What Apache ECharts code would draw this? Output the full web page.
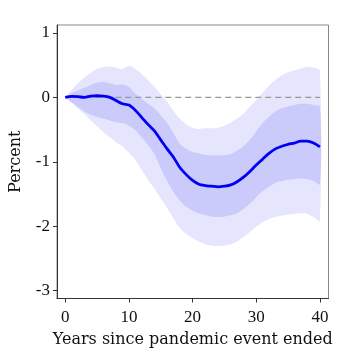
<!DOCTYPE html>
<html><head><meta charset="utf-8">
<script src="https://cdn.jsdelivr.net/npm/echarts@6/dist/echarts.min.js"></script>
<style>html,body{margin:0;padding:0;background:#fff}#c{width:344px;height:348px}</style>
</head><body><div id="c"></div>
<script>
var years = [];
for (var i = 0; i <= 40; i++) years.push(i);
var estimate = [0.00,0.015,0.01,0.00,0.02,0.025,0.02,0.00,-0.05,-0.10,-0.12,-0.20,-0.31,-0.42,-0.52,-0.66,-0.80,-0.93,-1.09,-1.20,-1.29,-1.35,-1.37,-1.38,-1.39,-1.38,-1.36,-1.31,-1.24,-1.15,-1.05,-0.96,-0.87,-0.80,-0.76,-0.73,-0.71,-0.68,-0.68,-0.71,-0.77];
var innerUpper = [0.00,0.06,0.11,0.15,0.19,0.23,0.24,0.22,0.19,0.20,0.16,0.06,-0.02,-0.10,-0.17,-0.28,-0.40,-0.56,-0.72,-0.80,-0.85,-0.87,-0.89,-0.90,-0.90,-0.90,-0.88,-0.83,-0.76,-0.66,-0.53,-0.40,-0.30,-0.22,-0.17,-0.14,-0.12,-0.10,-0.10,-0.12,-0.15];
var innerLower = [0.00,-0.08,-0.15,-0.22,-0.27,-0.30,-0.33,-0.36,-0.39,-0.40,-0.44,-0.51,-0.62,-0.74,-0.88,-1.10,-1.30,-1.47,-1.60,-1.70,-1.76,-1.80,-1.83,-1.85,-1.86,-1.85,-1.83,-1.80,-1.73,-1.65,-1.55,-1.46,-1.39,-1.33,-1.30,-1.28,-1.27,-1.26,-1.27,-1.30,-1.35];
var outerUpper = [0.00,0.12,0.22,0.31,0.38,0.44,0.47,0.48,0.46,0.44,0.49,0.44,0.36,0.27,0.16,0.05,-0.07,-0.21,-0.33,-0.42,-0.47,-0.49,-0.48,-0.48,-0.47,-0.44,-0.39,-0.33,-0.25,-0.14,-0.04,0.07,0.18,0.27,0.34,0.39,0.42,0.45,0.47,0.46,0.42];
var outerLower = [0.00,-0.08,-0.17,-0.26,-0.36,-0.45,-0.54,-0.62,-0.70,-0.76,-0.86,-0.97,-1.13,-1.28,-1.42,-1.57,-1.72,-1.88,-2.03,-2.12,-2.19,-2.24,-2.28,-2.30,-2.31,-2.30,-2.28,-2.24,-2.17,-2.09,-2.01,-1.94,-1.89,-1.86,-1.84,-1.82,-1.81,-1.80,-1.81,-1.86,-1.92];
var xTicks = [0, 10, 20, 30, 40];
var yTicks = [-3, -2, -1, 0, 1];
var xLabel = 'Years since pandemic event ended';
var yLabel = 'Percent';

function pairs(arr){ return years.map(function(x,i){ return [x, arr[i]]; }); }

function bandSeries(upper, lower, color){
  return {
    type:'custom', silent:true, clip:true,
    data:[0],
    encode:{x:-1, y:-1},
    renderItem:function(params, api){
      var pts = [];
      for (var i = 0; i < years.length; i++) pts.push(api.coord([years[i], upper[i]]));
      for (var j = years.length - 1; j >= 0; j--) pts.push(api.coord([years[j], lower[j]]));
      return {type:'polygon', shape:{points:pts, smooth:0.3}, style:{fill:color, stroke:null}};
    }
  };
}

var FONT = 'Liberation Serif';
var NAMEFONT = 'DejaVu Serif';
var chart = echarts.init(document.getElementById('c'), null, {renderer:'canvas'});
chart.setOption({
  animation:false,
  grid:{left:57, right:15.5, top:25, bottom:49.5, containLabel:false, outerBoundsMode:'none', show:true, borderColor:'#888', borderWidth:1},
  xAxis:{type:'value', min:-1.3, max:41.35,
    name:xLabel, nameLocation:'middle', nameGap:28,
    nameTextStyle:{fontFamily:NAMEFONT, fontSize:16, color:'#111'},
    axisLine:{show:true, onZero:false, lineStyle:{color:'#333', width:1}},
    axisTick:{show:true, length:4, customValues:xTicks, lineStyle:{color:'#333'}},
    axisLabel:{customValues:xTicks, fontFamily:FONT, fontSize:17, color:'#111', margin:11},
    splitLine:{show:false}},
  yAxis:{type:'value', min:-3.124, max:1.124,
    name:yLabel, nameLocation:'middle', nameGap:33, nameRotate:90,
    nameTextStyle:{fontFamily:NAMEFONT, fontSize:16, color:'#111'},
    axisLine:{show:true, onZero:false, lineStyle:{color:'#333', width:1}},
    axisTick:{show:true, length:4, customValues:yTicks, lineStyle:{color:'#333'}},
    axisLabel:{customValues:yTicks, fontFamily:FONT, fontSize:17, color:'#111', margin:7},
    splitLine:{show:false}},
  series:[
    bandSeries(outerUpper, outerLower, '#e5e5fd'),
    bandSeries(innerUpper, innerLower, '#cacafb'),
    {type:'line', data:[[0,0],[40,0]], symbol:'none', lineStyle:{color:'#999', width:1.3, type:[6,4]}, silent:true},
    {type:'line', data:pairs(estimate), symbol:'none', smooth:0.3, lineStyle:{color:'#0000f5', width:2.8}, silent:true}
  ]
});
</script></body></html>
